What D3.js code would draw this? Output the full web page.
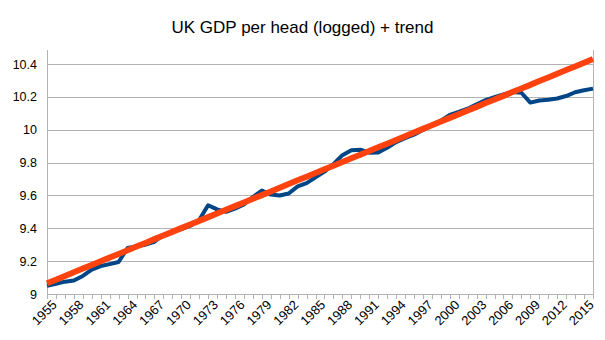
<!DOCTYPE html>
<html>
<head>
<meta charset="utf-8">
<script src="https://cdn.jsdelivr.net/npm/d3@7"></script>
<style>
    body { margin: 0; background: #fff; }
    svg { display: block; font-family: 'Liberation Sans', Arial, sans-serif; }
</style>
</head>
<body>
<svg id="chart" width="605" height="340"></svg>
<script>
// --- UK GDP per head, logged, with linear trend ---
const years = [
    1955, 1956, 1957, 1958, 1959, 1960, 1961, 1962, 1963, 1964,
    1965, 1966, 1967, 1968, 1969, 1970, 1971, 1972, 1973, 1974,
    1975, 1976, 1977, 1978, 1979, 1980, 1981, 1982, 1983, 1984,
    1985, 1986, 1987, 1988, 1989, 1990, 1991, 1992, 1993, 1994,
    1995, 1996, 1997, 1998, 1999, 2000, 2001, 2002, 2003, 2004,
    2005, 2006, 2007, 2008, 2009, 2010, 2011, 2012, 2013, 2014,
    2015, 2016
];

const gdpLogged = [
    9.050, 9.062, 9.075, 9.082, 9.110, 9.148, 9.170, 9.182, 9.195, 9.280,
    9.290, 9.300, 9.318, 9.360, 9.378, 9.395, 9.415, 9.450, 9.540, 9.515,
    9.500, 9.520, 9.545, 9.590, 9.630, 9.605, 9.600, 9.612, 9.655, 9.675,
    9.710, 9.745, 9.790, 9.845, 9.875, 9.878, 9.860, 9.862, 9.890, 9.925,
    9.948, 9.970, 9.998, 10.030, 10.055, 10.090, 10.108, 10.128, 10.155, 10.180,
    10.198, 10.215, 10.230, 10.225, 10.165, 10.178, 10.182, 10.190, 10.205, 10.228,
    10.240, 10.250
];

const trend = [
    9.065, 9.087, 9.110, 9.132, 9.155, 9.177, 9.199, 9.222, 9.244, 9.266,
    9.289, 9.311, 9.334, 9.356, 9.378, 9.401, 9.423, 9.445, 9.468, 9.490,
    9.513, 9.535, 9.557, 9.580, 9.602, 9.624, 9.647, 9.669, 9.692, 9.714,
    9.736, 9.759, 9.781, 9.804, 9.826, 9.848, 9.871, 9.893, 9.915, 9.938,
    9.960, 9.983, 10.005, 10.027, 10.050, 10.072, 10.094, 10.117, 10.139, 10.162,
    10.184, 10.206, 10.229, 10.251, 10.273, 10.296, 10.318, 10.341, 10.363, 10.385,
    10.408, 10.430
];

const yTicks = [9, 9.2, 9.4, 9.6, 9.8, 10, 10.2, 10.4];
const xLabelYears = years.filter(y => (y - 1955) % 3 === 0);

const plot = { left: 47, right: 593, top: 50, bottom: 294 };
const gridColor = '#b3b3b3';

const svg = d3.select('#chart');

svg.append('text')
    .attr('x', 302.5)
    .attr('y', 33)
    .attr('text-anchor', 'middle')
    .attr('font-size', '17px')
    .attr('fill', '#000')
    .text('UK GDP per head (logged) + trend');

const x = d3.scalePoint().domain(years).range([plot.left, plot.right]);
const y = d3.scaleLinear().domain([9, 10.4]).range([plot.bottom, 64]);

// horizontal gridlines
svg.append('g')
    .selectAll('line')
    .data(yTicks)
    .join('line')
    .attr('x1', plot.left)
    .attr('x2', plot.right)
    .attr('y1', d => Math.round(y(d)) + 0.5)
    .attr('y2', d => Math.round(y(d)) + 0.5)
    .attr('stroke', gridColor);

// y axis labels
svg.append('g')
    .selectAll('text')
    .data(yTicks)
    .join('text')
    .attr('x', 37)
    .attr('y', d => y(d))
    .attr('dy', '0.36em')
    .attr('text-anchor', 'end')
    .attr('font-size', '12.5px')
    .attr('fill', '#000')
    .text(d => +d.toFixed(1));

// left axis and right border
svg.append('line')
    .attr('x1', plot.left + 0.5).attr('x2', plot.left + 0.5)
    .attr('y1', plot.top).attr('y2', plot.bottom)
    .attr('stroke', gridColor);
svg.append('line')
    .attr('x1', plot.right + 0.5).attr('x2', plot.right + 0.5)
    .attr('y1', plot.top).attr('y2', plot.bottom)
    .attr('stroke', gridColor);

// category ticks below the axis
svg.append('g')
    .selectAll('line')
    .data(years)
    .join('line')
    .attr('x1', d => Math.round(x(d)) + 0.5)
    .attr('x2', d => Math.round(x(d)) + 0.5)
    .attr('y1', plot.bottom)
    .attr('y2', plot.bottom + 5)
    .attr('stroke', gridColor);

// rotated year labels, every third year
svg.append('g')
    .selectAll('text')
    .data(xLabelYears)
    .join('text')
    .attr('transform', d => `translate(${x(d) + 4},${plot.bottom + 5}) rotate(-45)`)
    .attr('text-anchor', 'end')
    .attr('dy', '0.72em')
    .attr('font-size', '13px')
    .attr('fill', '#000')
    .text(d => d);

const line = d3.line()
    .x((d, i) => x(years[i]))
    .y(d => y(d));

svg.append('path')
    .datum(gdpLogged)
    .attr('d', line)
    .attr('fill', 'none')
    .attr('stroke', '#004586')
    .attr('stroke-width', 4)
    .attr('stroke-linejoin', 'round');

svg.append('path')
    .datum(trend)
    .attr('d', line)
    .attr('fill', 'none')
    .attr('stroke', '#ff420e')
    .attr('stroke-width', 6)
    .attr('stroke-linejoin', 'round');
</script>
</body>
</html>
